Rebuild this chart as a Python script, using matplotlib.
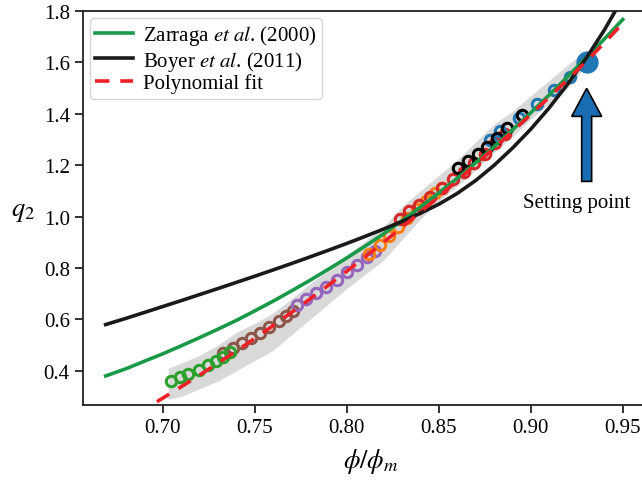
import matplotlib
matplotlib.use("Agg")
import matplotlib.pyplot as plt

plt.rcParams['font.family'] = ['Liberation Serif', 'DejaVu Serif']
plt.rcParams['mathtext.fontset'] = 'stix'

# ---- model curves ----
zarraga_x = [0.669, 0.68, 0.69, 0.70, 0.71, 0.72, 0.73, 0.74, 0.75, 0.76, 0.77, 0.78, 0.79,
             0.80, 0.81, 0.82, 0.83, 0.84, 0.85, 0.86, 0.87, 0.88, 0.89, 0.90, 0.91,
             0.92, 0.93, 0.94, 0.95]
zarraga_y = [0.38, 0.408, 0.437, 0.466, 0.497, 0.529, 0.562, 0.596, 0.633, 0.671, 0.711,
             0.752, 0.795, 0.839, 0.885, 0.933, 0.984, 1.037, 1.092, 1.149, 1.209, 1.272,
             1.337, 1.404, 1.473, 1.544, 1.617, 1.691, 1.767]

boyer_x = [0.669, 0.68, 0.69, 0.70, 0.71, 0.72, 0.73, 0.74, 0.75, 0.76, 0.77, 0.78, 0.79,
           0.80, 0.81, 0.82, 0.83, 0.84, 0.85, 0.86, 0.87, 0.88, 0.89, 0.90, 0.91,
           0.92, 0.93, 0.94, 0.95]
boyer_y = [0.58, 0.604, 0.627, 0.650, 0.673, 0.6965, 0.720, 0.744, 0.768, 0.7925, 0.8175,
           0.843, 0.869, 0.8955, 0.923, 0.9515, 0.981, 1.013, 1.048, 1.090, 1.140, 1.199,
           1.266, 1.340, 1.423, 1.515, 1.615, 1.726, 1.85]

poly_x = [0.685, 0.69, 0.70, 0.71, 0.72, 0.73, 0.74, 0.75, 0.76, 0.77, 0.78, 0.79, 0.80,
          0.81, 0.82, 0.83, 0.84, 0.85, 0.86, 0.87, 0.88, 0.89, 0.90, 0.91, 0.92, 0.93,
          0.94, 0.95]
poly_y = [0.230, 0.2505, 0.2935, 0.3377, 0.383, 0.4295, 0.4771, 0.5259, 0.5759, 0.627,
          0.6793, 0.7327, 0.7873, 0.8431, 0.900, 0.9581, 1.0173, 1.0777, 1.1393, 1.202,
          1.2659, 1.3309, 1.3971, 1.4645, 1.533, 1.6027, 1.676, 1.752]

# ---- shaded band ----
band_x = [0.703, 0.71, 0.72, 0.73, 0.74, 0.75, 0.76, 0.77, 0.78, 0.79, 0.80, 0.81,
          0.82, 0.83, 0.84, 0.85, 0.86, 0.87, 0.88, 0.89, 0.90, 0.91, 0.92, 0.927]
band_lo = [0.29, 0.30, 0.33, 0.36, 0.40, 0.44, 0.48, 0.54, 0.60, 0.66, 0.72, 0.775,
           0.83, 0.91, 0.99, 1.06, 1.12, 1.18, 1.25, 1.31, 1.38, 1.44, 1.50, 1.56]
band_hi = [0.41, 0.43, 0.46, 0.50, 0.55, 0.585, 0.625, 0.68, 0.74, 0.79, 0.85, 0.905,
           0.96, 1.04, 1.10, 1.16, 1.22, 1.29, 1.36, 1.41, 1.47, 1.53, 1.59, 1.63]

# ---- measured points ----
brown_x = [0.733, 0.738, 0.743, 0.748, 0.753, 0.758, 0.763, 0.767, 0.771]
brown_y = [0.47, 0.49, 0.507, 0.527, 0.548, 0.569, 0.592, 0.612, 0.632]
green_x = [0.7045, 0.7095, 0.714, 0.7195, 0.7245, 0.729, 0.733, 0.7365]
green_y = [0.362, 0.376, 0.388, 0.405, 0.423, 0.44, 0.455, 0.475]
purple_x = [0.773, 0.778, 0.7835, 0.789, 0.7945, 0.80, 0.8055, 0.811, 0.8155]
purple_y = [0.655, 0.678, 0.702, 0.728, 0.755, 0.785, 0.813, 0.842, 0.868]
orange_x = [0.812, 0.818, 0.823, 0.828, 0.833, 0.838, 0.843, 0.848, 0.852]
orange_y = [0.855, 0.89, 0.925, 0.96, 0.995, 1.03, 1.06, 1.09, 1.11]
red_x = [0.829, 0.834, 0.8395, 0.845, 0.852, 0.858, 0.8635, 0.869, 0.875, 0.8805, 0.886]
red_y = [0.99, 1.02, 1.045, 1.075, 1.11, 1.145, 1.175, 1.21, 1.245, 1.285, 1.32]
blue_x = [0.878, 0.8835, 0.8935, 0.9035, 0.9125, 0.9215]
blue_y = [1.30, 1.335, 1.385, 1.44, 1.492, 1.545]
black_x = [0.8607, 0.866, 0.8715, 0.876, 0.8815, 0.887, 0.8955]
black_y = [1.19, 1.215, 1.245, 1.272, 1.305, 1.345, 1.395]

setting_x, setting_y = 0.9304, 1.603
arrow_tail, arrow_tip = 1.137, 1.499

xticks = [0.70, 0.75, 0.80, 0.85, 0.90, 0.95]
yticks = [0.4, 0.6, 0.8, 1.0, 1.2, 1.4, 1.6, 1.8]

fig = plt.figure(figsize=(6.42, 4.81), dpi=100)
ax = fig.add_axes([83/642, 1-406/481, 576/642, 394/481])

ax.fill_between(band_x, band_lo, band_hi, color='#d9d9d9', lw=0, zorder=1)

groups = [(brown_x, brown_y, '#8c564b'), (green_x, green_y, '#2ca02c'),
          (purple_x, purple_y, '#9467bd'), (orange_x, orange_y, '#ff7f0e'),
          (red_x, red_y, '#d62728'), (blue_x, blue_y, '#1f77b4'),
          (black_x, black_y, 'black')]
for gx, gy, c in groups:
    ax.plot(gx, gy, 'o', ms=7.5, mfc='none', mec=c, mew=2.2, zorder=2)
ax.plot([setting_x], [setting_y], 'o', ms=15, color='#1f77b4', zorder=2)

ax.plot(zarraga_x, zarraga_y, color='#1a9a48', lw=2.6, zorder=3,
        label=r'Zarraga $\mathit{et\ al}$. (2000)')
ax.plot(boyer_x, boyer_y, color='#1a1a1a', lw=2.6, zorder=3,
        label=r'Boyer $\mathit{et\ al}$. (2011)')
ax.plot(poly_x, poly_y, color='#ee2028', lw=2.6, ls=(0, (4, 3)), zorder=4,
        label='Polynomial fit')

ax.arrow(setting_x, arrow_tail, 0, arrow_tip - arrow_tail, width=0.0054,
         head_width=0.0163, head_length=0.109, length_includes_head=True,
         fc='#1b6db3', ec='black', lw=1.2, zorder=5)
ax.text(0.925, 1.055, 'Setting point', fontsize=15, ha='center', va='center')

ax.set_xlim(0.6567, 0.9697)
ax.set_ylim(0.267, 1.80)
ax.set_xticks(xticks)
ax.set_xticklabels([f'{t:.2f}' for t in xticks])
ax.set_yticks(yticks)
ax.set_yticklabels([f'{t:.1f}' for t in yticks])
ax.tick_params(labelsize=15, length=6, width=1.3, colors='#222222', labelcolor='black')
for s in ax.spines.values():
    s.set_linewidth(1.3)
    s.set_color('#222222')
ax.spines['right'].set_visible(False)

ax.set_xlabel(r'$\phi/\phi_m$', fontsize=19, va='center')
ax.xaxis.set_label_coords(0.5, -0.142)
ax.set_ylabel(r'$q_2$', fontsize=19, rotation=0, va='center', ha='center')
ax.yaxis.set_label_coords(-0.104, 0.49)

leg = ax.legend(loc='upper left', fontsize=15, labelspacing=0.05, borderpad=0.25,
                handlelength=1.8, handletextpad=0.5, borderaxespad=0.35,
                fancybox=True)

fig.savefig('out.png', dpi=100)
